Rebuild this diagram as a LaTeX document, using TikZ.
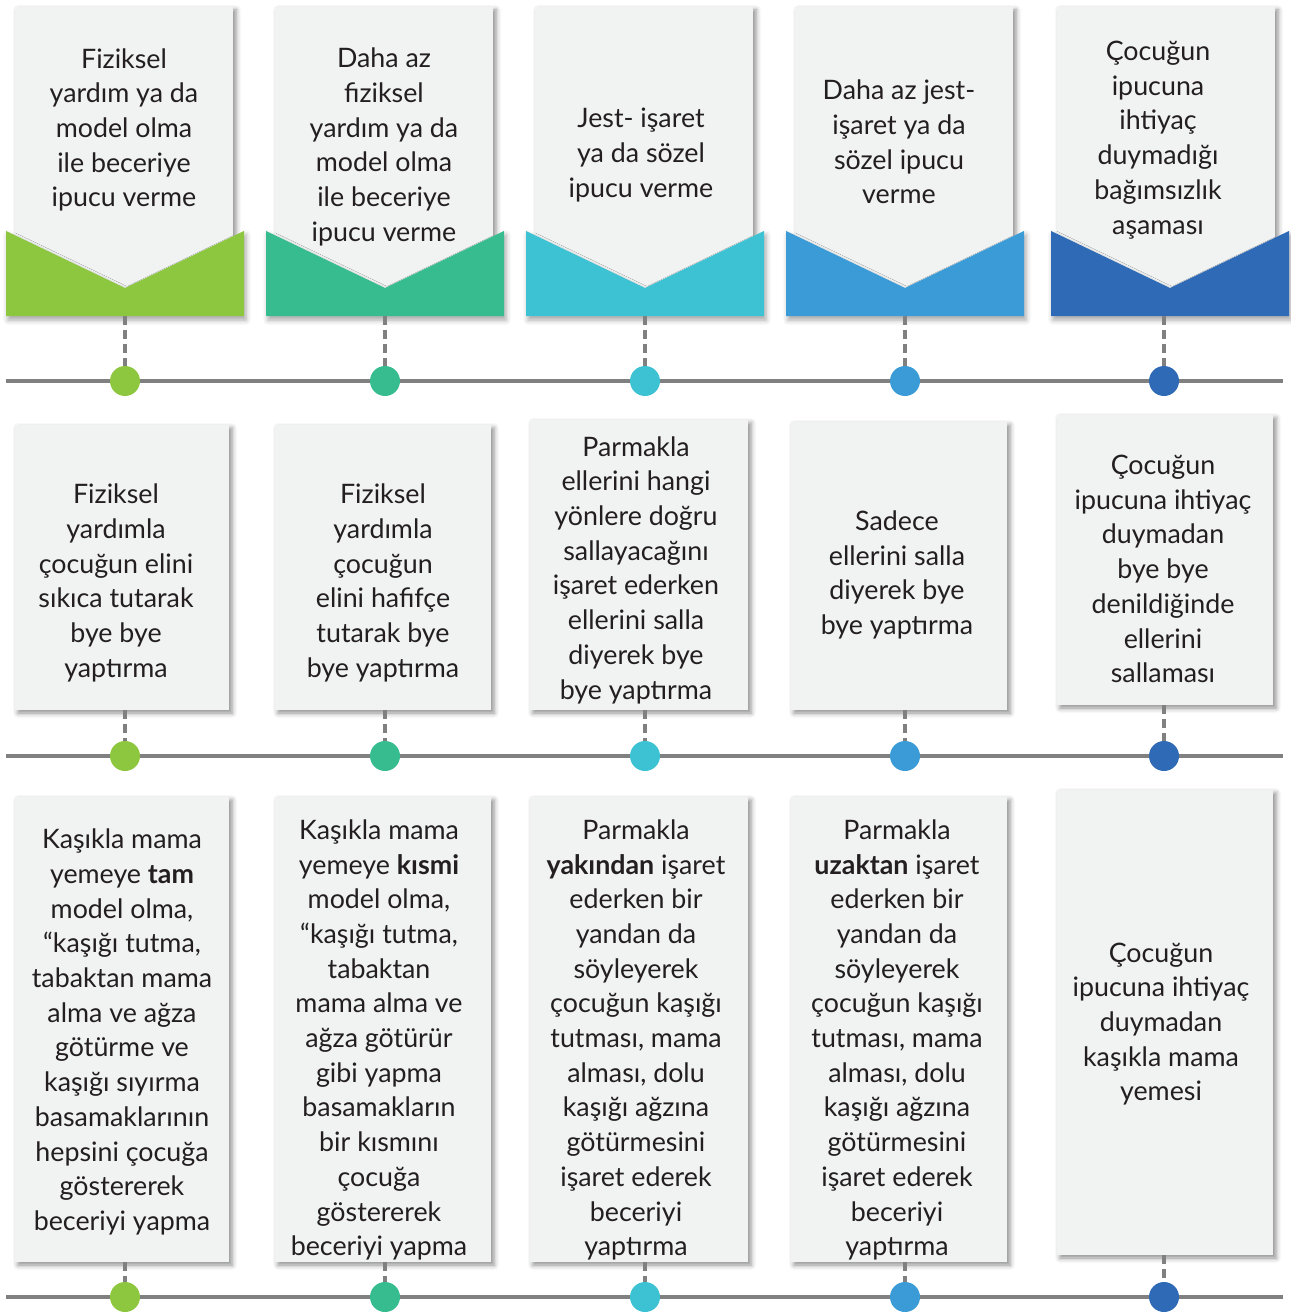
\documentclass[tikz,border=0pt]{standalone}
\usepackage{fontspec}
\setmainfont{Lato}
\usetikzlibrary{shadows.blur}
\definecolor{cA}{HTML}{8DC63F}
\definecolor{cB}{HTML}{36BC8F}
\definecolor{cC}{HTML}{3DC2D3}
\definecolor{cD}{HTML}{3A9BD6}
\definecolor{cE}{HTML}{2F6AB6}
\definecolor{cardgray}{HTML}{F1F2F2}
\definecolor{linegray}{HTML}{808080}
\definecolor{ink}{HTML}{231F20}
\begin{document}
\begin{tikzpicture}[x=1pt,y=-1pt,
  card/.style={rectangle, fill=cardgray, inner sep=0pt,
    blur shadow={shadow xshift=3pt, shadow yshift=-3pt, shadow blur radius=5pt, shadow opacity=45}},
  bandshadow/.style={blur shadow={shadow xshift=2pt, shadow yshift=-4pt, shadow blur radius=5pt, shadow opacity=35}},
  txt/.style={align=center, text=ink, font=\fontsize{26.8}{34.7}\selectfont, inner sep=0pt},
  timeline/.style={draw=linegray, line width=4pt},
  dashln/.style={draw=linegray, line width=4pt, dash pattern=on 9pt off 5pt},
  dot/.style={circle, minimum size=30pt, inner sep=0pt}]
\useasboundingbox (0,0) rectangle (1290,1313);

% ---------- row 1 cards ----------
\node[card, minimum width=218pt, minimum height=283pt] (h1) at (124,148.5) {};
\node[card, minimum width=218pt, minimum height=283pt] (h2) at (384,148.5) {};
\node[card, minimum width=218pt, minimum height=283pt] (h3) at (644,148.5) {};
\node[card, minimum width=218pt, minimum height=283pt] (h4) at (904,148.5) {};
\node[card, minimum width=218pt, minimum height=283pt] (h5) at (1166,148.5) {};

% bands
\foreach \i/\c/\m/\d in {1/cA/125/125,2/cB/385/385,3/cC/645/645,4/cD/905/905,5/cE/1170/1164}{
  \fill[\c, bandshadow] (\m-119,231) -- (\m,288) -- (\m+119,231) -- (\m+119,316) -- (\m-119,316) -- cycle;
  \coordinate (b\i) at (\d,316);
}

\node[txt] (t11) at (124,130) {Fiziksel\\yardım ya da\\model olma\\ile beceriye\\ipucu verme};
\node[txt] (t12) at (384,147) {Daha az\\fiziksel\\yardım ya da\\model olma\\ile beceriye\\ipucu verme};
\node[txt] (t13) at (641,155) {Jest- işaret\\ya da sözel\\ipucu verme};
\node[txt] (t14) at (899,142) {Daha az jest-\\işaret ya da\\sözel ipucu\\verme};
\node[txt] (t15) at (1158,140) {Çocuğun\\ipucuna\\ihtiyaç\\duymadığı\\bağımsızlık\\aşaması};

% ---------- row 2 cards ----------
\node[card, minimum width=214pt, minimum height=285pt] (m1) at (122,567.5) {};
\node[card, minimum width=216pt, minimum height=285pt] (m2) at (383,567.5) {};
\node[card, minimum width=218pt, minimum height=290pt] (m3) at (639,565) {};
\node[card, minimum width=216pt, minimum height=288pt] (m4) at (899,566) {};
\node[card, minimum width=216pt, minimum height=290pt] (m5) at (1165,560) {};

\node[txt] (t21) at (116,583) {Fiziksel\\yardımla\\çocuğun elini\\sıkıca tutarak\\bye bye\\yaptırma};
\node[txt] (t22) at (383,583) {Fiziksel\\yardımla\\çocuğun\\elini hafifçe\\tutarak bye\\bye yaptırma};
\node[txt] (t23) at (636,570) {Parmakla\\ellerini hangi\\yönlere doğru\\sallayacağını\\işaret ederken\\ellerini salla\\diyerek bye\\bye yaptırma};
\node[txt] (t24) at (897,575) {Sadece\\ellerini salla\\diyerek bye\\bye yaptırma};
\node[txt] (t25) at (1163,569) {Çocuğun\\ipucuna ihtiyaç\\duymadan\\bye bye\\denildiğinde\\ellerini\\sallaması};

% ---------- row 3 cards ----------
\node[card, minimum width=214pt, minimum height=465pt] (l1) at (122,1029.5) {};
\node[card, minimum width=216pt, minimum height=465pt] (l2) at (383,1029.5) {};
\node[card, minimum width=218pt, minimum height=465pt] (l3) at (639,1029.5) {};
\node[card, minimum width=216pt, minimum height=465pt] (l4) at (899,1029.5) {};
\node[card, minimum width=216pt, minimum height=465pt] (l5) at (1165,1022.5) {};

\node[txt] (t31) at (122,1032) {Kaşıkla mama\\yemeye \textbf{tam}\\model olma,\\“kaşığı tutma,\\tabaktan mama\\alma ve ağza\\götürme ve\\kaşığı sıyırma\\basamaklarının\\hepsini çocuğa\\göstererek\\beceriyi yapma};
\node[txt] (t32) at (379,1040) {Kaşıkla mama\\yemeye \textbf{kısmi}\\model olma,\\“kaşığı tutma,\\tabaktan\\mama alma ve\\ağza götürür\\gibi yapma\\basamakların\\bir kısmını\\çocuğa\\göstererek\\beceriyi yapma};
\node[txt] (t33) at (636,1040) {Parmakla\\\textbf{yakından} işaret\\ederken bir\\yandan da\\söyleyerek\\çocuğun kaşığı\\tutması, mama\\alması, dolu\\kaşığı ağzına\\götürmesini\\işaret ederek\\beceriyi\\yaptırma};
\node[txt] (t34) at (897,1040) {Parmakla\\\textbf{uzaktan} işaret\\ederken bir\\yandan da\\söyleyerek\\çocuğun kaşığı\\tutması, mama\\alması, dolu\\kaşığı ağzına\\götürmesini\\işaret ederek\\beceriyi\\yaptırma};
\node[txt] (t35) at (1161,1024) {Çocuğun\\ipucuna ihtiyaç\\duymadan\\kaşıkla mama\\yemesi};

% ---------- timelines ----------
\coordinate (L1a) at (6,381);  \coordinate (L1b) at (1283,381);
\coordinate (L2a) at (6,756);  \coordinate (L2b) at (1283,756);
\coordinate (L3a) at (6,1297); \coordinate (L3b) at (1283,1297);
\draw[timeline] (L1a) -- (L1b);
\draw[timeline] (L2a) -- (L2b);
\draw[timeline] (L3a) -- (L3b);

\foreach \i/\c/\m in {1/cA/125,2/cB/385,3/cC/645,4/cD/905,5/cE/1164}{
  \coordinate (d1\i) at (\m,381);
  \coordinate (d2\i) at (\m,756);
  \coordinate (d3\i) at (\m,1297);
}
\foreach \i in {1,...,5}{
  \draw[dashln] (b\i) -- (d1\i);
  \draw[dashln] (m\i.south -| d2\i) -- (d2\i);
  \draw[dashln] (l\i.south -| d3\i) -- (d3\i);
}
\foreach \i/\c in {1/cA,2/cB,3/cC,4/cD,5/cE}{
  \node[dot, fill=\c] (p1\i) at (d1\i) {};
  \node[dot, fill=\c] (p2\i) at (d2\i) {};
  \node[dot, fill=\c] (p3\i) at (d3\i) {};
}
\end{tikzpicture}
\end{document}
